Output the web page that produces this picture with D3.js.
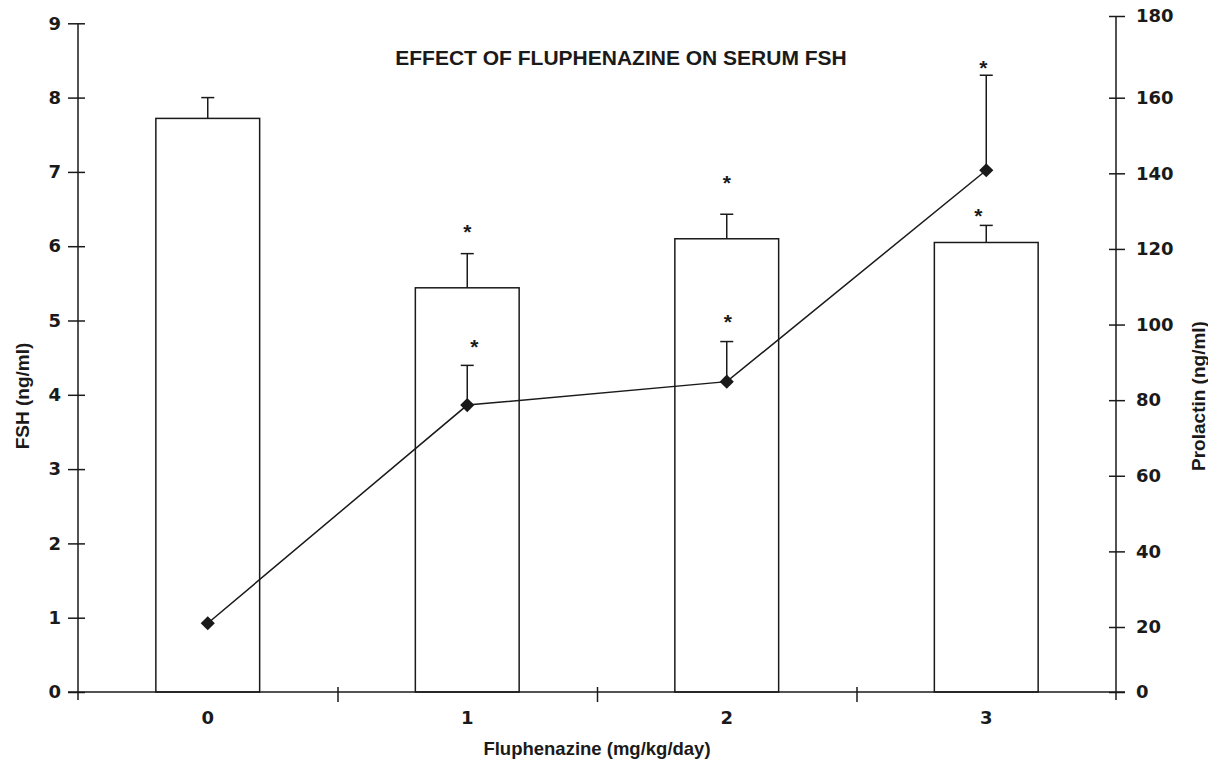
<!DOCTYPE html>
<html>
<head>
<meta charset="utf-8">
<script src="https://cdn.jsdelivr.net/npm/d3@7"></script>
<style>
  body { margin: 0; background: #fff; }
  text { font-family: "Liberation Sans", Arial, sans-serif; fill: #1a1a1a; }
</style>
</head>
<body>
<div id="chart"></div>
<script>
// datos
var doses = ["0", "1", "2", "3"];
var fshMean = [7.72, 5.44, 6.10, 6.05];
var fshErr = [0.28, 0.46, 0.33, 0.23];
var prlMean = [21, 78.7, 84.9, 140.8];
var prlErr = [0, 10.5, 10.6, 24.7];
var fshSig = [false, true, true, true];
var prlSig = [false, true, true, true];
var fshTicks = [0, 1, 2, 3, 4, 5, 6, 7, 8, 9];
var prlTicks = [0, 20, 40, 60, 80, 100, 120, 140, 160, 180];

(function(){
  var W = 1208, H = 761;
  var ink = "#1a1a1a";

  var svg = d3.select("#chart").append("svg")
              .attr("width", W)
              .attr("height", H);

  //Escalas
  var x = d3.scaleBand().domain(doses).range([78, 1116]);
  var xEdge = d3.scaleLinear().domain([0, doses.length]).range([78, 1116]);
  var yL = d3.scaleLinear().domain([0, 9]).range([692, 23.3]);
  // el eje derecho del original no es del todo uniforme
  var yR = d3.scaleLinear().domain([0, 20, 160, 180]).range([692, 627, 97.7, 16]);

  var barW = x.bandwidth() * 0.4;

  //Barras FSH
  var bars = svg.append("g");
  bars.selectAll("rect")
      .data(fshMean)
      .enter().append("rect")
      .attr("x", function(d, i){ return x(doses[i]) + (x.bandwidth() - barW) / 2; })
      .attr("y", function(d){ return yL(d); })
      .attr("width", barW)
      .attr("height", function(d){ return yL(0) - yL(d); })
      .attr("fill", "#fff")
      .attr("stroke", ink)
      .attr("stroke-width", 1.5);

  function cx(i){ return x(doses[i]) + x.bandwidth() / 2; }

  //Barras de error FSH
  var eb = bars.selectAll("g.err")
      .data(fshMean)
      .enter().append("g").attr("class", "err");
  eb.append("line")
      .attr("x1", function(d, i){ return cx(i); })
      .attr("x2", function(d, i){ return cx(i); })
      .attr("y1", function(d){ return yL(d); })
      .attr("y2", function(d, i){ return yL(d + fshErr[i]); })
      .attr("stroke", ink).attr("stroke-width", 1.5);
  eb.append("line")
      .attr("x1", function(d, i){ return cx(i) - 6.5; })
      .attr("x2", function(d, i){ return cx(i) + 6.5; })
      .attr("y1", function(d, i){ return yL(d + fshErr[i]); })
      .attr("y2", function(d, i){ return yL(d + fshErr[i]); })
      .attr("stroke", ink).attr("stroke-width", 1.5);

  //Linea de prolactina
  var line = d3.line()
      .x(function(d, i){ return cx(i); })
      .y(function(d){ return yR(d); });

  svg.append("path")
     .datum(prlMean)
     .attr("d", line)
     .attr("fill", "none")
     .attr("stroke", ink)
     .attr("stroke-width", 1.5);

  var pe = svg.append("g").selectAll("g")
      .data(prlMean)
      .enter().append("g")
      .filter(function(d, i){ return prlErr[i] > 0; });
  pe.append("line")
      .attr("x1", function(d){ return cx(prlMean.indexOf(d)); })
      .attr("x2", function(d){ return cx(prlMean.indexOf(d)); })
      .attr("y1", function(d){ return yR(d); })
      .attr("y2", function(d){ return yR(d + prlErr[prlMean.indexOf(d)]); })
      .attr("stroke", ink).attr("stroke-width", 1.5);
  pe.append("line")
      .attr("x1", function(d){ return cx(prlMean.indexOf(d)) - 6.5; })
      .attr("x2", function(d){ return cx(prlMean.indexOf(d)) + 6.5; })
      .attr("y1", function(d){ return yR(d + prlErr[prlMean.indexOf(d)]); })
      .attr("y2", function(d){ return yR(d + prlErr[prlMean.indexOf(d)]); })
      .attr("stroke", ink).attr("stroke-width", 1.5);

  svg.append("g").selectAll("path")
     .data(prlMean)
     .enter().append("path")
     .attr("d", d3.symbol(d3.symbolSquare, 100))
     .attr("transform", function(d, i){ return "translate(" + cx(i) + "," + yR(d) + ") rotate(45)"; })
     .attr("fill", ink);

  //Asteriscos (separacion en px tomada de la figura)
  var barGap = [0, 27, 36, 14];
  var prlGap = [0, 23, 25, 12];
  var barDx = [0, 0, 0, -8];
  var prlDx = [0, 7, 1, -3];
  var stars = svg.append("g")
                 .attr("font-size", 21)
                 .attr("font-weight", "bold")
                 .attr("text-anchor", "middle");
  fshMean.forEach(function(d, i){
    if(!fshSig[i]) return;
    stars.append("text")
         .attr("x", cx(i) + barDx[i])
         .attr("y", yL(d + fshErr[i]) - barGap[i] + 12)
         .text("*");
  });
  prlMean.forEach(function(d, i){
    if(!prlSig[i]) return;
    stars.append("text")
         .attr("x", cx(i) + prlDx[i])
         .attr("y", yR(d + prlErr[i]) - prlGap[i] + 12)
         .text("*");
  });

  //Ejes
  function styleAxis(g){
    g.select(".domain").remove();
    g.selectAll("line").attr("stroke", ink).attr("stroke-width", 1.5);
    g.selectAll("text")
     .style("font-size", "18px")
     .style("font-weight", "bold")
     .style("font-family", "'DejaVu Sans', 'Liberation Sans', sans-serif")
     .attr("fill", ink);
  }

  var axL = svg.append("g")
     .attr("transform", "translate(78,0)")
     .call(d3.axisLeft(yL).tickValues(fshTicks).tickFormat(d3.format("d")).tickSize(10).tickPadding(7));
  styleAxis(axL);
  axL.selectAll(".tick line").attr("x1", 7);

  var axR = svg.append("g")
     .attr("transform", "translate(1116,0)")
     .call(d3.axisRight(yR).tickValues(prlTicks).tickFormat(d3.format("d")).tickSize(9).tickPadding(11));
  styleAxis(axR);
  axR.selectAll(".tick line").attr("x1", -7);

  var axB = svg.append("g")
     .attr("transform", "translate(0,692)")
     .call(d3.axisBottom(x).tickSize(0).tickPadding(19));
  styleAxis(axB);

  var axT = svg.append("g")
     .attr("transform", "translate(0,692)")
     .call(d3.axisBottom(xEdge).tickValues(d3.range(1, doses.length)).tickFormat("").tickSize(10));
  styleAxis(axT);
  axT.selectAll(".tick line").attr("y1", -5);

  //Lineas de los ejes
  var axes = svg.append("g").attr("stroke", ink).attr("stroke-width", 1.5);
  axes.append("line").attr("x1", 78).attr("x2", 78).attr("y1", yL(9)).attr("y2", 700);
  axes.append("line").attr("x1", 1116).attr("x2", 1116).attr("y1", yR(180)).attr("y2", 700);
  axes.append("line").attr("x1", 68).attr("x2", 1125).attr("y1", 692).attr("y2", 692);

  //Titulos
  svg.append("text")
     .attr("x", 621).attr("y", 65)
     .attr("text-anchor", "middle")
     .attr("font-size", 21).attr("font-weight", "bold")
     .text("EFFECT OF FLUPHENAZINE ON SERUM FSH");

  svg.append("text")
     .attr("x", 597).attr("y", 755)
     .attr("text-anchor", "middle")
     .attr("font-size", 18.5).attr("font-weight", "bold")
     .text("Fluphenazine (mg/kg/day)");

  svg.append("text")
     .attr("transform", "translate(29,396) rotate(-90)")
     .attr("text-anchor", "middle")
     .attr("font-size", 19).attr("font-weight", "bold")
     .text("FSH (ng/ml)");

  svg.append("text")
     .attr("transform", "translate(1205,396) rotate(-90)")
     .attr("text-anchor", "middle")
     .attr("font-size", 19).attr("font-weight", "bold")
     .text("Prolactin (ng/ml)");
})();
</script>
</body>
</html>
